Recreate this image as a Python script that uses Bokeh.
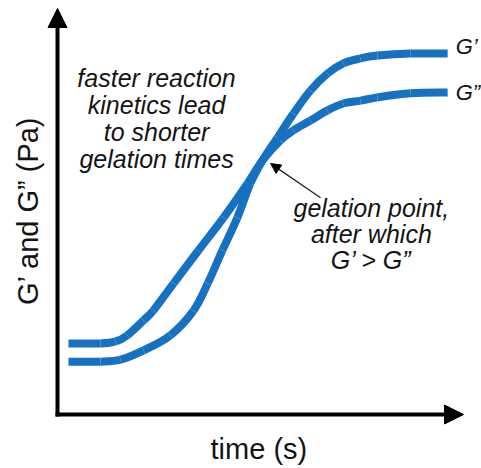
import math
from bokeh.plotting import figure
from bokeh.models import Arrow, NormalHead, Range1d
from bokeh.core.properties import value
from bokeh.embed import file_html
from bokeh.resources import INLINE

# ---- data (arbitrary units) ----
time_g2 = [2.7, 10.6, 14.3, 17.2, 21.2, 23.6, 28.6, 34.7, 40.9, 46.8, 50.5, 54.9, 58.1, 62.3,
           66.5, 70.4, 74.6, 78.8, 87.0, 96.1]
g_loss = [17.5, 17.5, 18.0, 19.5, 23.2, 25.6, 32.3, 40.4, 48.5, 56.9, 62.6, 67.5, 70.0, 72.4,
          74.9, 76.6, 77.3, 78.1, 79.1, 79.3]

time_g1 = [2.7, 10.6, 15.5, 21.2, 27.8, 33.5, 37.0, 40.6, 44.3, 47.5, 50.5, 54.2, 58.1, 62.3,
           66.5, 70.4, 74.6, 78.8, 87.0, 96.1]
g_storage = [13.0, 13.0, 13.5, 15.8, 19.5, 25.6, 32.3, 40.4, 48.5, 56.9, 62.6, 68.2, 74.1, 79.8,
             84.0, 86.5, 87.7, 88.4, 88.9, 88.9]

series_labels = ["G\u2019", "G\u201d"]
x_label = "time (s)"
y_label = "G\u2019 and G\u201d (Pa)"
note_left = ["faster reaction", "kinetics lead", "to shorter", "gelation times"]
note_right = ["gelation point,", "after which", "G\u2019 > G\u201d"]
gel_point = (50.5, 62.6)

# ---- layout ----
BLUE = "#1672c0"
INK = "#141414"
FONT = "Liberation Sans"
PX = 4.06            # pixels per data unit (both axes)
W, H = 481, 468
OX, OY = 57, 414     # origin position inside the figure (px from left / top)
LIFT = 0.3           # baseline correction, in em


def lift(size):
    return LIFT * size / PX


p = figure(width=W, height=H, output_backend="svg", toolbar_location=None,
           x_range=Range1d(-OX / PX, (W - OX) / PX),
           y_range=Range1d(-(H - OY) / PX, OY / PX),
           x_axis_location=None, y_axis_location=None,
           min_border=0, min_border_left=0, min_border_right=0,
           min_border_top=0, min_border_bottom=0)
p.outline_line_color = None
p.grid.visible = False
p.background_fill_color = "white"
p.border_fill_color = "white"

# ---- axes drawn as arrows ----
half = 2 / PX
top = 100.0
right = 100.0
p.segment(x0=[0, -half], y0=[-half, 0], x1=[0, right - 12 / PX], y1=[top - 12 / PX, 0],
          line_width=4, line_color="black")
for xs, ys, xe, ye in [(0, top - 10, 0, top), (right - 10, 0, right, 0)]:
    p.add_layout(Arrow(end=NormalHead(size=19, fill_color="black", line_color="black", line_width=1),
                       x_start=xs, y_start=ys, x_end=xe, y_end=ye, line_color=None))

# axis titles
AX = 29
p.text(x=[49.6], y=[-43 / PX + lift(AX)], text=[x_label], text_font=value(FONT),
       text_font_size=f"{AX}px", text_color=INK, text_align="center", text_baseline="alphabetic")
p.text(x=[-21 / PX - lift(AX)], y=[50.2], text=[y_label], angle=math.pi / 2, text_font=value(FONT),
       text_font_size=f"{AX}px", text_color=INK, text_align="center", text_baseline="alphabetic")


# ---- curves (smooth Catmull-Rom path through the read points) ----
def smooth(xs, ys):
    n = len(xs)
    out = dict(x0=[], y0=[], x1=[], y1=[], cx0=[], cy0=[], cx1=[], cy1=[])
    for i in range(n - 1):
        a = max(i - 1, 0)
        b = min(i + 2, n - 1)
        out["x0"].append(xs[i]); out["y0"].append(ys[i])
        out["x1"].append(xs[i + 1]); out["y1"].append(ys[i + 1])
        out["cx0"].append(xs[i] + (xs[i + 1] - xs[a]) / 6)
        out["cy0"].append(ys[i] + (ys[i + 1] - ys[a]) / 6)
        out["cx1"].append(xs[i + 1] - (xs[b] - xs[i]) / 6)
        out["cy1"].append(ys[i + 1] - (ys[b] - ys[i]) / 6)
    return out


for xs, ys in [(time_g1, g_storage), (time_g2, g_loss)]:
    p.bezier(line_width=8, line_color=BLUE, **smooth(xs, ys))

# ---- series labels ----
SL = 22
p.text(x=[time_g1[-1] + 8 / PX, time_g2[-1] + 8 / PX],
       y=[g_storage[-1] + lift(SL), g_loss[-1] - 7 / PX + lift(SL)],
       text=series_labels, text_font=value(FONT), text_font_style="italic",
       text_font_size=f"{SL}px", text_color=INK, text_align="left", text_baseline="alphabetic")

# ---- notes ----
NS = 25
p.text(x=[24.4] * len(note_left),
       y=[81.0 + lift(NS) - i * 27 / PX for i in range(len(note_left))],
       text=note_left, text_font=value(FONT), text_font_style="italic",
       text_font_size=f"{NS}px", text_color=INK, text_align="center", text_baseline="alphabetic")
p.text(x=[77.3] * len(note_right),
       y=[49.0 + lift(NS) - i * 26 / PX for i in range(len(note_right))],
       text=note_right, text_font=value(FONT), text_font_style="italic",
       text_font_size=f"{NS}px", text_color=INK, text_align="center", text_baseline="alphabetic")

p.add_layout(Arrow(end=NormalHead(size=10, fill_color="black", line_color="black", line_width=1),
                   x_start=64.8, y_start=53.4,
                   x_end=gel_point[0] + 2.0, y_end=gel_point[1] - 0.8,
                   line_color="#222222", line_width=1.3))

open("out.html", "w").write(file_html(p, INLINE))
